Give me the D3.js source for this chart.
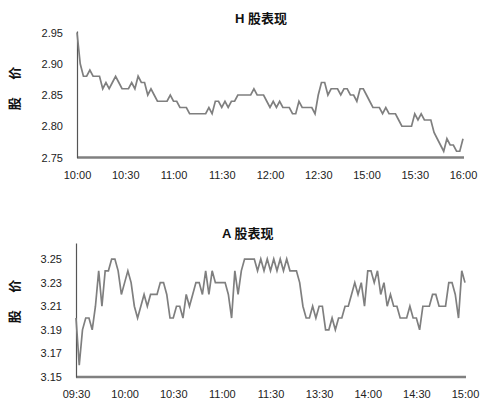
<!DOCTYPE html>
<html>
<head>
<meta charset="utf-8">
<script src="https://cdn.jsdelivr.net/npm/d3@7"></script>
<style>
  html, body { margin: 0; padding: 0; background: #fff; }
  svg text { font-family: "Liberation Sans", Arial, "Noto Sans CJK SC", sans-serif; }
</style>
</head>
<body>
<svg id="chart" width="500" height="407"></svg>
<script>
// ---------- H share ----------
const hTitle = "H 股表现";
const hTimeLabels = ["10:00","10:30","11:00","11:30","12:00","12:30","15:00","15:30","16:00"];
const hYTicks = [2.75, 2.80, 2.85, 2.90, 2.95];
const hPrices = [
  2.95,2.90,2.88,2.88,2.89,2.88,2.88,2.88,2.86,2.87,
  2.86,2.87,2.88,2.87,2.86,2.86,2.86,2.87,2.86,2.88,
  2.87,2.87,2.85,2.86,2.85,2.84,2.84,2.84,2.84,2.85,
  2.84,2.84,2.83,2.83,2.83,2.82,2.82,2.82,2.82,2.82,
  2.82,2.83,2.82,2.84,2.84,2.83,2.84,2.83,2.84,2.84,
  2.85,2.85,2.85,2.85,2.85,2.86,2.85,2.85,2.85,2.84,
  2.83,2.84,2.83,2.84,2.83,2.83,2.83,2.82,2.82,2.84,
  2.83,2.83,2.83,2.83,2.82,2.85,2.87,2.87,2.85,2.86,
  2.86,2.86,2.85,2.86,2.86,2.85,2.85,2.84,2.86,2.86,
  2.85,2.84,2.83,2.83,2.83,2.82,2.83,2.82,2.82,2.82,
  2.81,2.80,2.80,2.80,2.80,2.82,2.81,2.82,2.81,2.81,
  2.81,2.79,2.78,2.77,2.76,2.78,2.77,2.77,2.76,2.76,
  2.78
];

// ---------- A share ----------
const aTitle = "A 股表现";
const aTimeLabels = ["09:30","10:00","10:30","11:00","11:30","13:30","14:00","14:30","15:00"];
const aYTicks = [3.15, 3.17, 3.19, 3.21, 3.23, 3.25];
const aPrices = [
  3.20,3.16,3.19,3.20,3.20,3.19,3.21,3.24,3.21,3.24,
  3.24,3.25,3.25,3.24,3.22,3.23,3.24,3.23,3.21,3.20,
  3.21,3.22,3.21,3.22,3.22,3.22,3.23,3.23,3.22,3.20,
  3.20,3.21,3.21,3.20,3.22,3.21,3.22,3.23,3.23,3.22,
  3.24,3.22,3.24,3.23,3.23,3.23,3.23,3.22,3.20,3.24,
  3.22,3.24,3.25,3.25,3.25,3.25,3.24,3.25,3.24,3.25,
  3.24,3.25,3.24,3.25,3.24,3.25,3.24,3.24,3.24,3.23,
  3.21,3.20,3.20,3.21,3.20,3.21,3.21,3.19,3.19,3.20,
  3.19,3.20,3.20,3.21,3.21,3.22,3.23,3.22,3.23,3.21,
  3.24,3.24,3.23,3.24,3.22,3.23,3.21,3.22,3.21,3.21,
  3.20,3.20,3.20,3.21,3.20,3.20,3.19,3.21,3.21,3.21,
  3.22,3.22,3.21,3.21,3.21,3.23,3.23,3.22,3.20,3.24,
  3.23
];

const yLabel = "股 价";

const svg = d3.select("#chart");

function drawPanel(opt) {
  const g = svg.append("g");
  const n = opt.prices.length;
  const x = d3.scaleLinear().domain([0, n - 1]).range([opt.x0, opt.x1]);
  const y = d3.scaleLinear().domain([opt.yMin, opt.yTop]).range([opt.yBottom, opt.yTopPx]);
  const step = (n - 1) / (opt.labels.length - 1);

  // x axis
  const xAxis = d3.axisBottom(x)
    .tickValues(opt.labels.map((d, i) => i * step))
    .tickFormat((d, i) => opt.labels[i])
    .tickSize(0)
    .tickPadding(opt.xPad);
  const gx = g.append("g").attr("transform", `translate(0,${opt.yBottom})`).call(xAxis);
  gx.select(".domain").attr("stroke", "#808080").attr("stroke-width", 2.5)
    .attr("d", `M${opt.x0},0H${opt.xAxisEnd}`);
  gx.selectAll("text").attr("font-size", 11).attr("fill", "#222");

  // y axis
  const yAxis = d3.axisLeft(y)
    .tickValues(opt.yTicks)
    .tickFormat(d3.format(".2f"))
    .tickSize(0)
    .tickPadding(14);
  const gy = g.append("g").attr("transform", `translate(${opt.x0},0)`).call(yAxis);
  gy.select(".domain").attr("stroke", "#555").attr("stroke-width", 1.2);
  gy.selectAll("text").attr("font-size", 11).attr("fill", "#222");

  // line
  const line = d3.line().x((d, i) => x(i)).y(d => y(d));
  g.append("path").datum(opt.prices)
    .attr("fill", "none")
    .attr("stroke", "#7f7f7f")
    .attr("stroke-width", 1.7)
    .attr("stroke-linejoin", "miter")
    .attr("d", line);

  // title
  g.append("text").attr("x", opt.titleX).attr("y", opt.titleY)
    .attr("font-size", 13).attr("font-weight", "bold").attr("fill", "#111")
    .text(opt.title);

  // y label
  g.append("text")
    .attr("transform", `translate(19,${opt.yLabelY}) rotate(-90)`)
    .attr("text-anchor", "middle")
    .attr("font-size", 13).attr("font-weight", "bold").attr("fill", "#111")
    .attr("letter-spacing", 7)
    .text(yLabel);
}

drawPanel({
  prices: hPrices, labels: hTimeLabels, yTicks: hYTicks, title: hTitle,
  x0: 77, x1: 463, xAxisEnd: 464,
  yMin: 2.75, yTop: 2.9524, yBottom: 157.5, yTopPx: 31,
  xPad: 14, titleX: 235, titleY: 23, yLabelY: 85
});

drawPanel({
  prices: aPrices, labels: aTimeLabels, yTicks: aYTicks, title: aTitle,
  x0: 76, x1: 465, xAxisEnd: 466,
  yMin: 3.15, yTop: 3.2636, yBottom: 377, yTopPx: 243,
  xPad: 13, titleX: 222, titleY: 238, yLabelY: 298
});
</script>
</body>
</html>
